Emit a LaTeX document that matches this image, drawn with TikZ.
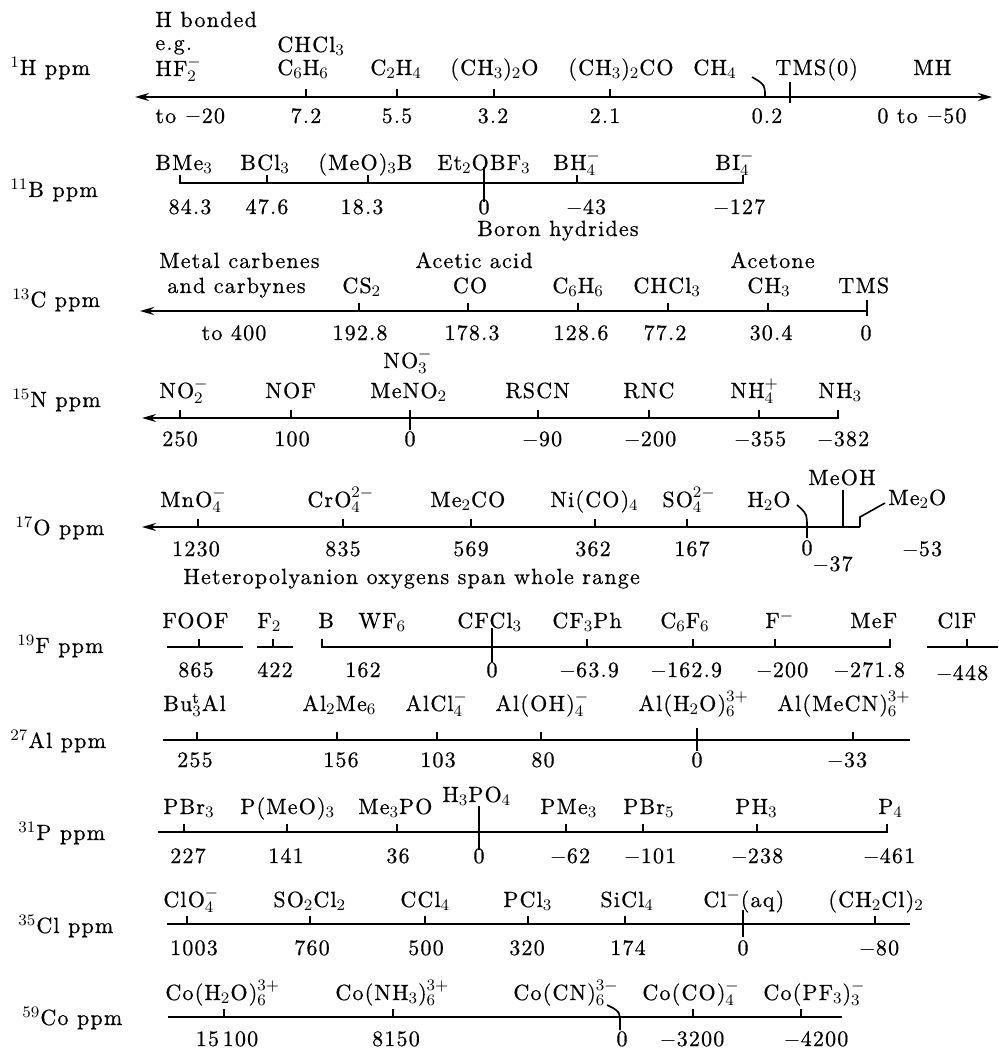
\documentclass[tikz,border=0pt]{standalone}
\usepackage{fontspec}
\setmainfont{lmroman10-regular.otf}[LetterSpace=5.5,FakeBold=0.6]
\usetikzlibrary{arrows.meta}
\tikzset{
 lbl/.style={font=\fontsize{11}{13}\selectfont, inner sep=0pt, anchor=base west},
 ctr/.style={font=\fontsize{11}{13}\selectfont, inner sep=0pt, anchor=base},
 axl/.style={line width=0.9pt},
 tkl/.style={line width=0.8pt},
 arr/.style={-{Stealth[length=7pt,width=4pt]}},
 arrboth/.style={{Stealth[length=7pt,width=4pt]}-{Stealth[length=7pt,width=4pt]}}
}
\newcommand\Lw[4]{\node[lbl] (#1) at (#2,#3) {#4};}
\newcommand\Lc[4]{\node[ctr] (#1) at (#2,#3) {#4};}
\newcommand\Tk[2]{\draw[tkl] (#1,#2) -- ++(0,-8);}
\newcommand\Ln[3]{\draw[tkl] (#1,#2) -- (#1,#3);}
\begin{document}
\begin{tikzpicture}[x=0.5pt,y=-0.5pt]
\fill[white] (0,0) rectangle (998,1048);
\useasboundingbox (0,0) rectangle (998,1048);

% ---------- 1H ----------
\draw[axl,arrboth] (135,97) -- (992,97);
\Tk{306}{97}\Tk{397}{97}\Tk{494}{97}\Tk{610}{97}
\Ln{790}{82}{103}
\draw[tkl,rounded corners=2pt] (752,77) -- (762,83) -- (765,88) -- (765,97);
\Lw{h0}{10}{75}{$^{1}$H ppm}
\Lw{h1}{155}{27}{H bonded}
\Lw{h2}{155}{50}{e.g.}
\Lw{h3}{155}{76}{HF$_2^-$}
\Lw{h4}{277}{52}{CHCl$_3$}
\Lw{h5}{277}{75}{C$_6$H$_6$}
\Lw{h6}{370}{75}{C$_2$H$_4$}
\Lw{h7}{450}{75}{(CH$_3$)$_2$O}
\Lw{h8}{568}{75}{(CH$_3$)$_2$CO}
\Lw{h9}{693}{75}{CH$_4$}
\Lw{h10}{775}{75}{TMS(0)}
\Lw{h11}{913}{75}{MH}
\Lw{hn1}{155}{123}{to $-$20}
\Lc{hn2}{306}{123}{7.2}
\Lc{hn3}{397}{123}{5.5}
\Lc{hn4}{493}{123}{3.2}
\Lc{hn5}{605}{123}{2.1}
\Lc{hn6}{767}{123}{0.2}
\Lw{hn7}{877}{123}{0 to $-$50}

% ---------- 11B ----------
\draw[axl] (180,175) -- (180,183) -- (743,183) -- (743,175);
\Tk{267}{183}\Tk{368}{183}\Tk{577}{183}
\Ln{484}{167}{202}
\Lw{b0}{10}{197}{$^{11}$B ppm}
\Lw{b1}{155}{170}{BMe$_3$}
\Lw{b2}{240}{170}{BCl$_3$}
\Lw{b3}{318}{170}{(MeO)$_3$B}
\Lw{b4}{437}{170}{Et$_2$OBF$_3$}
\Lw{b5}{553}{170}{BH$_4^-$}
\Lw{b6}{715}{170}{BI$_4^-$}
\Lc{bn1}{190}{214}{84.3}
\Lc{bn2}{267}{214}{47.6}
\Lc{bn3}{362}{214}{18.3}
\Lc{bn4}{484}{214}{0}
\Lc{bn5}{586}{214}{$-$43}
\Lc{bn6}{739}{214}{$-$127}
\Lw{bn7}{477}{236}{Boron hydrides}

% ---------- 13C ----------
\draw[axl,arr] (867,311) -- (140,311);
\Tk{359}{311}\Tk{468}{311}\Tk{578}{311}\Tk{668}{311}\Tk{768}{311}
\Ln{867}{300}{316}
\Lw{c0}{12}{307}{$^{13}$C ppm}
\Lw{c1}{159}{268}{Metal carbenes}
\Lw{c2}{167}{293}{and carbynes}
\Lw{c3}{342}{293}{CS$_2$}
\Lw{c4}{415}{268}{Acetic acid}
\Lc{c5}{470}{293}{CO}
\Lw{c6}{552}{293}{C$_6$H$_6$}
\Lw{c7}{633}{293}{CHCl$_3$}
\Lw{c8}{730}{268}{Acetone}
\Lw{c9}{747}{293}{CH$_3$}
\Lw{c10}{838}{293}{TMS}
\Lc{cn1}{234}{340}{to 400}
\Lc{cn2}{360}{340}{192.8}
\Lc{cn3}{472}{340}{178.3}
\Lc{cn4}{581}{340}{128.6}
\Lc{cn5}{665}{340}{77.2}
\Lc{cn6}{771}{340}{30.4}
\Lc{cn7}{866}{340}{0}

% ---------- 15N ----------
\draw[axl,arr] (838,410) -- (838,418) -- (142,418);
\Tk{180}{418}\Tk{291}{418}\Tk{538}{418}\Tk{649}{418}\Tk{759}{418}
\Ln{410}{410}{430}
\Lw{n0}{12}{407}{$^{15}$N ppm}
\Lw{n1}{383}{368}{NO$_3^-$}
\Lw{n2}{159}{398}{NO$_2^-$}
\Lw{n3}{265}{398}{NOF}
\Lw{n4}{370}{398}{MeNO$_2$}
\Lw{n5}{505}{398}{RSCN}
\Lw{n6}{623}{398}{RNC}
\Lw{n7}{730}{398}{NH$_4^+$}
\Lw{n8}{818}{398}{NH$_3$}
\Lc{nn1}{180}{446}{250}
\Lc{nn2}{292}{446}{100}
\Lc{nn3}{410}{446}{0}
\Lc{nn4}{542}{446}{$-$90}
\Lc{nn5}{650}{446}{$-$200}
\Lc{nn6}{760}{446}{$-$355}
\Lc{nn7}{843}{446}{$-$382}

% ---------- 17O ----------
\draw[axl,arr] (860,527) -- (142,527);
\draw[tkl] (860,527) -- (860,517) -- (885,503);
\Tk{198}{527}\Tk{343}{527}\Tk{471}{527}\Tk{595}{527}\Tk{687}{527}
\Ln{843}{490}{527}
\draw[tkl,rounded corners=2pt] (797,505) -- (805,512) -- (807,518) -- (807,538);
\Lw{o0}{15}{535}{$^{17}$O ppm}
\Lw{o1}{160}{507}{MnO$_4^-$}
\Lw{o2}{307}{507}{CrO$_4^{2-}$}
\Lw{o3}{430}{507}{Me$_2$CO}
\Lw{o4}{550}{507}{Ni(CO)$_4$}
\Lw{o5}{662}{507}{SO$_4^{2-}$}
\Lw{o6}{747}{507}{H$_2$O}
\Lw{o7}{808}{485}{MeOH}
\Lw{o8}{888}{505}{Me$_2$O}
\Lc{on1}{196}{556}{1230}
\Lc{on2}{343}{556}{835}
\Lc{on3}{471}{556}{569}
\Lc{on4}{593}{556}{362}
\Lc{on5}{692}{556}{167}
\Lc{on6}{807}{555}{0}
\Lw{on7}{812}{571}{$-$37}
\Lc{on8}{922}{556}{$-$53}
\Lw{on9}{183}{584}{Heteropolyanion oxygens span whole range}

% ---------- 19F ----------
\draw[axl] (167,647) -- (243,647);
\draw[axl] (257,647) -- (293,647);
\draw[axl] (322,639) -- (322,647) -- (890,647) -- (890,639);
\draw[axl] (927,647) -- (998,647);
\Tk{199}{647}\Tk{273}{647}\Tk{587}{647}\Tk{693}{647}\Tk{775}{647}\Tk{967}{647}
\Ln{492}{628}{662}
\Lw{f0}{17}{653}{$^{19}$F ppm}
\Lw{f1}{162}{628}{FOOF}
\Lw{f2}{257}{628}{F$_2$}
\Lw{f3}{318}{628}{B}
\Lw{f4}{358}{628}{WF$_6$}
\Lw{f5}{457}{628}{CFCl$_3$}
\Lw{f6}{552}{628}{CF$_3$Ph}
\Lw{f7}{660}{628}{C$_6$F$_6$}
\Lw{f8}{765}{628}{F$^-$}
\Lw{f9}{850}{628}{MeF}
\Lw{f10}{937}{628}{ClF}
\Lc{fn1}{196}{677}{865}
\Lc{fn2}{275}{677}{422}
\Lc{fn3}{363}{677}{162}
\Lc{fn4}{492}{677}{0}
\Lc{fn5}{589}{677}{$-$63.9}
\Lc{fn6}{686}{677}{$-$162.9}
\Lc{fn7}{782}{677}{$-$200}
\Lc{fn8}{869}{677}{$-$271.8}
\Lc{fn9}{962}{680}{$-$448}

% ---------- 27Al ----------
\draw[axl] (163,740) -- (910,740);
\Tk{197}{740}\Tk{337}{740}\Tk{437}{740}\Tk{541}{740}\Tk{853}{740}
\Ln{697}{728}{751}
\Lw{a0}{10}{748}{$^{27}$Al ppm}
\Lw{a1}{163}{711}{Bu$^{\mathrm{t}}_3$Al}
\Lw{a2}{302}{711}{Al$_2$Me$_6$}
\Lw{a3}{405}{711}{AlCl$_4^-$}
\Lw{a4}{495}{711}{Al(OH)$_4^-$}
\Lw{a5}{638}{711}{Al(H$_2$O)$_6^{3+}$}
\Lw{a6}{777}{711}{Al(MeCN)$_6^{3+}$}
\Lc{an1}{195}{767}{255}
\Lc{an2}{341}{767}{156}
\Lc{an3}{438}{767}{103}
\Lc{an4}{543}{767}{80}
\Lc{an5}{697}{767}{0}
\Lc{an6}{847}{767}{$-$33}

% ---------- 31P ----------
\draw[axl] (158,832) -- (887,832) -- (887,824);
\Tk{184}{832}\Tk{287}{832}\Tk{397}{832}\Tk{566}{832}\Tk{643}{832}\Tk{757}{832}
\Ln{479}{806}{850}
\Lw{p0}{18}{840}{$^{31}$P ppm}
\Lw{p1}{163}{814}{PBr$_3$}
\Lw{p2}{240}{814}{P(MeO)$_3$}
\Lw{p3}{358}{814}{Me$_3$PO}
\Lw{p4}{442}{802}{H$_3$PO$_4$}
\Lw{p5}{540}{814}{PMe$_3$}
\Lw{p6}{623}{814}{PBr$_5$}
\Lw{p7}{735}{814}{PH$_3$}
\Lw{p8}{878}{814}{P$_4$}
\Lc{pn1}{188}{863}{227}
\Lc{pn2}{286}{863}{141}
\Lc{pn3}{398}{863}{36}
\Lc{pn4}{479}{863}{0}
\Lc{pn5}{570}{863}{$-$62}
\Lc{pn6}{650}{863}{$-$101}
\Lc{pn7}{757}{863}{$-$238}
\Lc{pn8}{889}{863}{$-$461}

% ---------- 35Cl ----------
\draw[axl] (167,924) -- (910,924);
\Tk{187}{924}\Tk{310}{924}\Tk{425}{924}\Tk{528}{924}\Tk{625}{924}\Tk{875}{924}
\Ln{743}{910}{937}
\Lw{l0}{18}{933}{$^{35}$Cl ppm}
\Lw{l1}{163}{907}{ClO$_4^-$}
\Lw{l2}{273}{907}{SO$_2$Cl$_2$}
\Lw{l3}{400}{907}{CCl$_4$}
\Lw{l4}{503}{907}{PCl$_3$}
\Lw{l5}{600}{907}{SiCl$_4$}
\Lw{l6}{703}{907}{Cl$^-$(aq)}
\Lw{l7}{828}{907}{(CH$_2$Cl)$_2$}
\Lc{ln1}{194}{955}{1003}
\Lc{ln2}{312}{955}{760}
\Lc{ln3}{426}{955}{500}
\Lc{ln4}{527}{955}{320}
\Lc{ln5}{628}{955}{174}
\Lc{ln6}{743}{955}{0}
\Lc{ln7}{879}{955}{$-$80}

% ---------- 59Co ----------
\draw[axl] (168,1017) -- (842,1017);
\Tk{224}{1017}\Tk{393}{1017}\Tk{693}{1017}\Tk{801}{1017}
\draw[tkl,rounded corners=2pt] (607,1005) -- (617,1010) -- (620,1015) -- (620,1030);
\Lw{k0}{22}{1025}{$^{59}$Co ppm}
\Lw{k1}{165}{1000}{Co(H$_2$O)$_6^{3+}$}
\Lw{k2}{335}{1000}{Co(NH$_3$)$_6^{3+}$}
\Lw{k3}{513}{1000}{Co(CN)$_6^{3-}$}
\Lw{k4}{642}{1000}{Co(CO)$_4^-$}
\Lw{k5}{763}{1000}{Co(PF$_3$)$_3^-$}
\Lc{kn1}{227}{1046}{15\,100}
\Lc{kn2}{396}{1046}{8150}
\Lc{kn3}{622}{1046}{0}
\Lc{kn4}{692}{1046}{$-$3200}
\Lc{kn5}{816}{1046}{$-$4200}
\end{tikzpicture}
\end{document}
